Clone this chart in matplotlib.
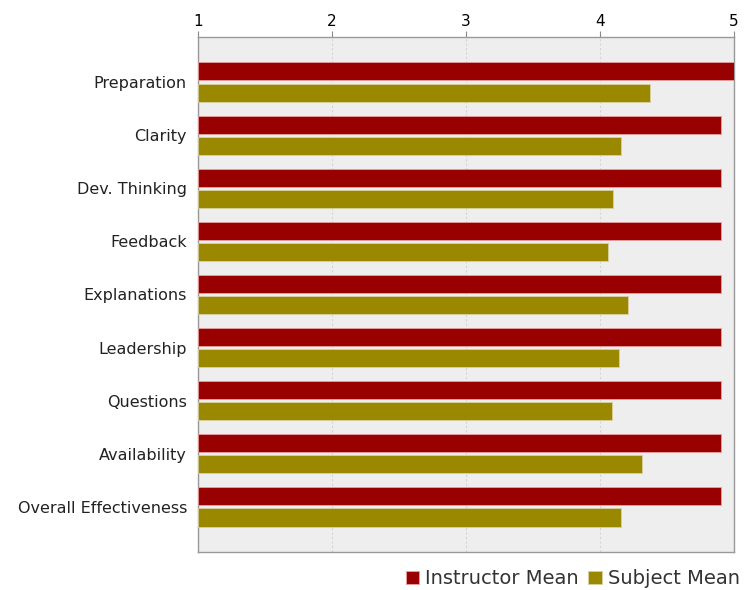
import matplotlib.pyplot as plt
import numpy as np

categories = ["Preparation", "Clarity", "Dev. Thinking", "Feedback", "Explanations",
              "Leadership", "Questions", "Availability", "Overall Effectiveness"]
instructor_mean = [5.0, 4.9, 4.9, 4.9, 4.9, 4.9, 4.9, 4.9, 4.9]
subject_mean = [4.37, 4.16, 4.10, 4.06, 4.21, 4.14, 4.09, 4.31, 4.16]

fig = plt.figure(figsize=(7.46, 5.9), dpi=100)
ax = fig.add_axes([0.2654, 0.0644, 0.7185, 0.873])
ax.set_facecolor("#eeeeee")

y = np.arange(len(categories))
h = 0.34
ax.barh(y - 0.2, np.array(instructor_mean) - 1, h, left=1, color="#990000",
        edgecolor="#e8a0a0", linewidth=0.6, label="Instructor Mean", zorder=3)
ax.barh(y + 0.2, np.array(subject_mean) - 1, h, left=1, color="#998800",
        edgecolor="#d8d0a0", linewidth=0.6, label="Subject Mean", zorder=3)

ax.set_xlim(1, 5)
ax.set_ylim(len(categories) - 1 + 0.85, -0.85)
ax.set_yticks(y)
ax.set_yticklabels(categories, fontsize=11.5, color="#222222")
ax.set_xticks([1, 2, 3, 4, 5])
ax.xaxis.tick_top()
ax.tick_params(axis="x", labelsize=11, length=4, color="#888888", pad=2)
ax.tick_params(axis="y", length=0, pad=8)
ax.grid(axis="x", color="#d4d4d4", linewidth=0.8, linestyle=(0, (2, 2)), zorder=1)

for side in ax.spines:
    ax.spines[side].set_color("#999999")
    ax.spines[side].set_linewidth(1)

leg = fig.legend(loc="lower right", bbox_to_anchor=(1.01, -0.02), ncol=2, frameon=False,
                 fontsize=14, handlelength=0.7, handleheight=0.7, handletextpad=0.3,
                 columnspacing=0.5, borderaxespad=0.3)
for t in leg.get_texts():
    t.set_color("#333333")

fig.savefig("out.png", dpi=100)
